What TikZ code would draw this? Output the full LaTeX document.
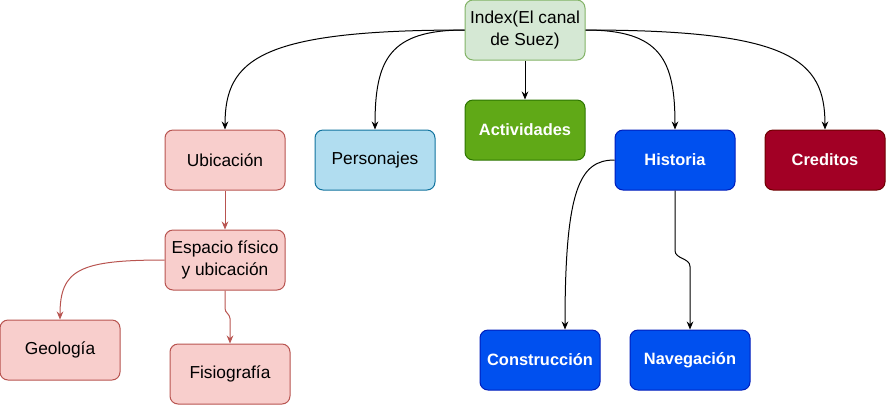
\documentclass[tikz,border=0pt]{standalone}
\usepackage{fontspec}
\setmainfont{Liberation Sans}
\usepackage{xcolor}
\usetikzlibrary{arrows.meta}

\definecolor{verdeclaro}{HTML}{D5E8D4}
\definecolor{verdeborde}{HTML}{82B366}
\definecolor{rojoclaro}{HTML}{F8CECC}
\definecolor{rojoborde}{HTML}{B85450}
\definecolor{azulclaro}{HTML}{B1DDF0}
\definecolor{azulborde}{HTML}{10739E}
\definecolor{verde}{HTML}{60A917}
\definecolor{verdeosc}{HTML}{2D7600}
\definecolor{azul}{HTML}{0050EF}
\definecolor{azulosc}{HTML}{001DBC}
\definecolor{granate}{HTML}{A20025}
\definecolor{granateosc}{HTML}{6F0000}

\begin{document}
\begin{tikzpicture}[x=0.75pt, y=-0.75pt, line width=0.75pt,
		caja/.style={rectangle, rounded corners=6pt, draw, minimum width=90pt, minimum height=45pt, align=center, inner sep=2pt, font=\fontsize{13}{16}\selectfont},
		oscura/.style={caja, text=white, font=\bfseries\fontsize{12.3}{15}\selectfont},
		flecha/.style={-{Stealth[length=6pt, width=5pt]}, black},
		flecharoja/.style={flecha, rojoborde}]
		\useasboundingbox (0,0) rectangle (886,405);
		% nodos
		\node[caja, fill=verdeclaro, draw=verdeborde](index) at (525,30){Index(El canal\\de Suez)};
		\node[caja, fill=rojoclaro, draw=rojoborde](ubic) at (225,160){Ubicación};
		\node[caja, fill=azulclaro, draw=azulborde](pers) at (375,160){Personajes};
		\node[oscura, fill=verde, draw=verdeosc](activ) at (525,130){Actividades};
		\node[oscura, fill=azul, draw=azulosc](hist) at (675,160){Historia};
		\node[oscura, fill=granate, draw=granateosc](cred) at (825,160){Creditos};
		\node[caja, fill=rojoclaro, draw=rojoborde](espacio) at (225,260){Espacio físico\\y ubicación};
		\node[caja, fill=rojoclaro, draw=rojoborde](geo) at (60,350){Geología};
		\node[caja, fill=rojoclaro, draw=rojoborde](fisio) at (230,374){Fisiografía};
		\node[oscura, fill=azul, draw=azulosc](constr) at (540,360){Construcción};
		\node[oscura, fill=azul, draw=azulosc](naveg) at (690,360){Navegación};
		% conexiones
		\draw[flecha] (index.west) .. controls +(-205,0) and +(0,-70) .. (ubic.north);
		\draw[flecha] (index.west) .. controls +(-75,0) and +(0,-70) .. (pers.north);
		\draw[flecha] (index.south) -- (activ.north);
		\draw[flecha] (index.east) .. controls +(75,0) and +(0,-70) .. (hist.north);
		\draw[flecha] (index.east) .. controls +(205,0) and +(0,-70) .. (cred.north);
		\draw[flecharoja] (ubic.south) -- (espacio.north);
		\draw[flecharoja] (espacio.west) .. controls +(-85,0) and +(0,-50) .. (geo.north);
		\draw[flecharoja] (espacio.south) -- ++(0,18) to[out=-90, in=90] ++(5,10) -- (fisio.north);
		\draw[flecha] (hist.west) .. controls +(-35,0) and +(0,-140) .. ([xshift=18.75pt]constr.north);
		\draw[flecha] (hist.south) -- ++(0,60) to[out=-90, in=90] ++(15,16) -- (naveg.north);
	\end{tikzpicture}
\end{document}
